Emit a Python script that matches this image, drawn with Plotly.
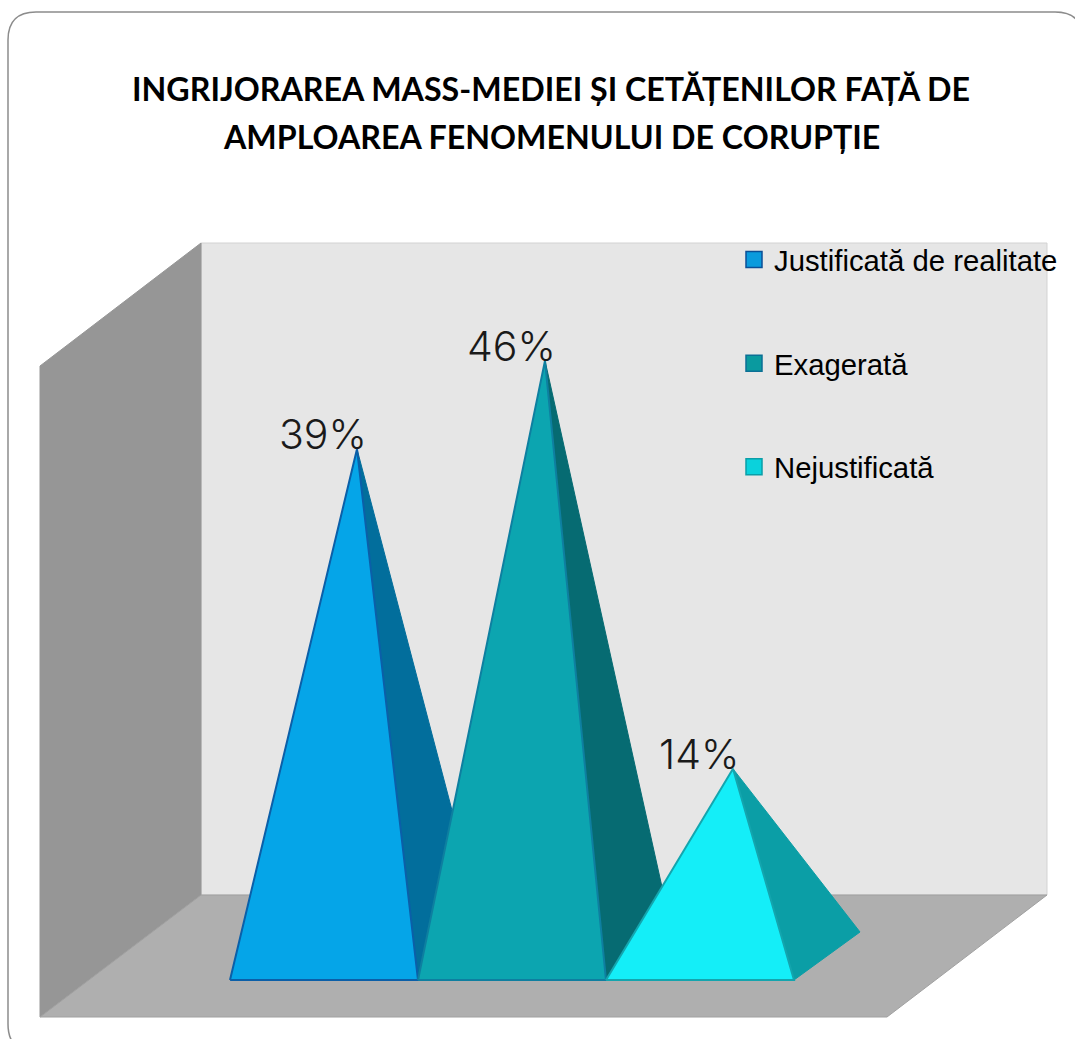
import plotly.graph_objects as go

W, H = 1075, 1039

title_lines = ["INGRIJORAREA MASS-MEDIEI ȘI CETĂȚENILOR FAȚĂ DE", "AMPLOAREA FENOMENULUI DE CORUPȚIE"]
categories = ["Justificată de realitate", "Exagerată", "Nejustificată"]
values = [39.0, 45.8, 14.4]
front_colors = ["#05A5E8", "#0CA5B0", "#14EEF8"]
side_colors = ["#026E9C", "#066B72", "#0B9EA6"]
edge_colors = ["#0B5FA8", "#0E7FA0", "#14A5AE"]
legend_fill = ["#0A9BDD", "#0A9A9F", "#0AD2DC"]
legend_edge = ["#0B4F96", "#0B6F95", "#0A9EA8"]

# scale: one category = 188 px, one value unit = 13 px
PX_CAT, PX_VAL = 188.0, 13.0
X0_PX, BASE_PX = 230.0, 980.0
DEPTH_X = 66.0 / PX_CAT
DEPTH_Y = 48.0 / PX_VAL
base_y = -DEPTH_Y / 2

fig = go.Figure()

for i, (name, v) in enumerate(zip(categories, values)):
    left, right = float(i), float(i + 1)
    apex_x = (left + right) / 2 + DEPTH_X / 2
    fig.add_trace(go.Scatter(
        x=[right, right + DEPTH_X, apex_x, right], y=[base_y, base_y + DEPTH_Y, v, base_y],
        fill="toself", fillcolor=side_colors[i], mode="lines",
        line=dict(color=side_colors[i], width=1), showlegend=False, hoverinfo="skip"))
    fig.add_trace(go.Scatter(
        x=[left, right, apex_x, left], y=[base_y, base_y, v, base_y],
        fill="toself", fillcolor=front_colors[i], mode="lines",
        line=dict(color=edge_colors[i], width=2), showlegend=False, name=name))
    fig.add_trace(go.Scatter(
        x=[None], y=[None], mode="markers", name=name, legendgroup=name,
        marker=dict(symbol="square", size=16, color=legend_fill[i], line=dict(color=legend_edge[i], width=1.5))))
    fig.add_annotation(x=apex_x, y=v, text=f"{round(v)}%", showarrow=False, xanchor="center", yanchor="bottom",
                       xshift=-34, yshift=-12, font=dict(family="Inter", size=41, color="#1a1a1a", weight=300))


def px(x):
    return x / W


def py(y):
    return 1 - y / H


def poly(points, color, line=None):
    d = "M " + " L ".join(f"{px(a):.5f},{py(b):.5f}" for a, b in points) + " Z"
    return dict(type="path", xref="paper", yref="paper", path=d, fillcolor=color, layer="below",
                line=dict(color=line or color, width=1))


shapes = [
    poly([(201, 243), (1047, 243), (1047, 895), (201, 895)], "#E6E6E6", "#D2D2D2"),
    poly([(40, 366), (201, 243), (201, 895), (40, 1017)], "#969696"),
    poly([(40, 1017), (201, 895), (1047, 895), (887, 1017)], "#AFAFAF", "#A0A0A0"),
]
fl, ft, fr, fb, rad = 8, 12, 1083, 1052, 28
frame = (f"M {px(fl + rad):.5f},{py(fb):.5f} Q {px(fl):.5f},{py(fb):.5f} {px(fl):.5f},{py(fb - rad):.5f} "
         f"L {px(fl):.5f},{py(ft + rad):.5f} "
         f"Q {px(fl):.5f},{py(ft):.5f} {px(fl + rad):.5f},{py(ft):.5f} "
         f"L {px(fr - rad):.5f},{py(ft):.5f} Q {px(fr):.5f},{py(ft):.5f} {px(fr):.5f},{py(ft + rad):.5f}")
shapes.append(dict(type="path", xref="paper", yref="paper", path=frame, layer="below",
                   line=dict(color="#8C8C8C", width=1.5)))

for line_text, y_px in zip(title_lines, [88, 137]):
    fig.add_annotation(xref="paper", yref="paper", x=551 / W, y=py(y_px), text=f"<b>{line_text}</b>",
                       showarrow=False, align="center", xanchor="center", yanchor="middle",
                       font=dict(family="Lato", size=32.2, color="#000000"))

fig.update_layout(
    width=W, height=H, margin=dict(l=0, r=0, t=0, b=0), autosize=False,
    paper_bgcolor="white", plot_bgcolor="rgba(0,0,0,0)", shapes=shapes,
    xaxis=dict(visible=False, range=[-X0_PX / PX_CAT, (W - X0_PX) / PX_CAT], fixedrange=True),
    yaxis=dict(visible=False, range=[base_y - (H - BASE_PX) / PX_VAL, base_y + BASE_PX / PX_VAL], fixedrange=True),
    legend=dict(x=734 / W, y=py(234), xanchor="left", yanchor="top", bgcolor="rgba(0,0,0,0)", itemwidth=30,
                tracegroupgap=62.5, font=dict(family="Liberation Sans", size=29.3, color="#000000")),
)

fig.write_html("out.html", config=dict(displayModeBar=False),
               post_script="document.body.style.margin='0';document.documentElement.style.overflow='hidden';")
